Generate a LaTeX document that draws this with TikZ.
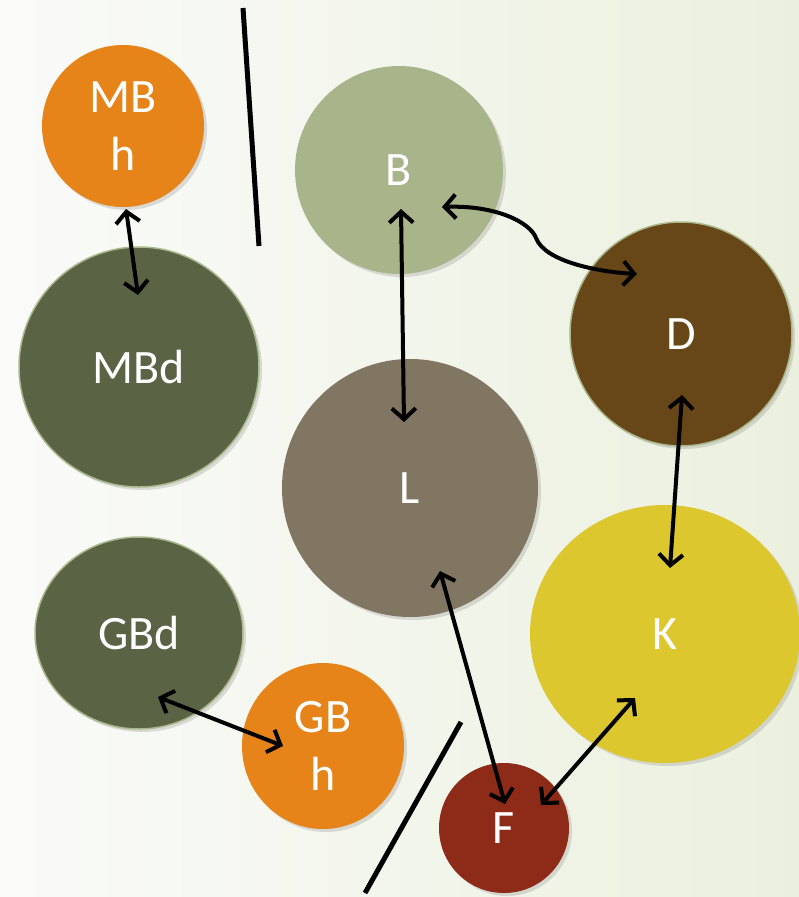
\documentclass[tikz,border=0pt]{standalone}
\usepackage{fontspec}
\setmainfont{Carlito}
\usetikzlibrary{arrows.meta,shapes.geometric,shadows}
\definecolor{orng}{RGB}{230,132,26}
\definecolor{dgreen}{RGB}{91,99,69}
\definecolor{lgreen}{RGB}{168,180,138}
\definecolor{lgray}{RGB}{128,118,98}
\definecolor{dbrown}{RGB}{103,71,24}
\definecolor{kyel}{RGB}{221,199,46}
\definecolor{fred}{RGB}{142,42,24}
\definecolor{rimc}{RGB}{170,184,140}
\definecolor{bgl}{RGB}{250,251,249}
\definecolor{bgr}{RGB}{235,240,222}
\begin{document}
\begin{tikzpicture}[x=1pt,y=-1pt,
  blob/.style={ellipse,inner sep=0pt,text=white,align=center,
    font=\fontsize{48}{58}\selectfont,
    drop shadow={shadow xshift=3pt,shadow yshift=-3pt,opacity=0.25}},
  rimmed/.style={draw=rimc,line width=1.5pt},
  dbl/.style={{Straight Barb[length=11pt,width=24pt]}-{Straight Barb[length=11pt,width=24pt]},line width=4pt,black},
  bar/.style={line width=5pt,black}]
\shade[left color=bgl,right color=bgr] (0,0) rectangle (799,897);
\useasboundingbox (0,0) rectangle (799,897);

% nodes
\node[blob,fill=orng,minimum width=162pt,minimum height=162pt] (MBh) at (123,126) {MB\\h};
\node[blob,rimmed,fill=dgreen,minimum width=240pt,minimum height=240pt] (MBd) at (139,367) {MBd};
\node[blob,rimmed,fill=dgreen,minimum width=208pt,minimum height=192pt] (GBd) at (139,633) {GBd};
\node[blob,fill=orng,minimum width=162pt,minimum height=166pt] (GBh) at (323,746) {GB\\h};
\node[blob,fill=lgreen,minimum width=208pt,minimum height=208pt] (B) at (399,170) {B};
\node[blob,fill=lgray,minimum width=256pt,minimum height=258pt] (L) at (410,488) {L};
\node[blob,rimmed,fill=dbrown,minimum width=222pt,minimum height=224pt] (D) at (681,334) {D};
\node[blob,fill=kyel,minimum width=270pt,minimum height=258pt] (K) at (665,634) {K};
\node[blob,fill=fred,minimum width=130pt,minimum height=130pt] (F) at (504,828) {F};

% separator bars
\coordinate (s1a) at (243,8);
\coordinate (s1b) at (259,246);
\coordinate (s2a) at (461,722);
\coordinate (s2b) at (365,893);
\draw[bar] (s1a) -- (s1b);
\draw[bar] (s2a) -- (s2b);

% connector ends
\coordinate (mbh1) at (126,209);
\coordinate (mbd1) at (138,295);
\coordinate (b1) at (401,209);
\coordinate (l1) at (404,422);
\coordinate (b2) at (442,207);
\coordinate (d1) at (637,274);
\coordinate (d2) at (682,395);
\coordinate (k1) at (670,568);
\coordinate (l2) at (440,571);
\coordinate (f1) at (505,804);
\coordinate (k2) at (635,698);
\coordinate (f2) at (541,805);
\coordinate (gbd1) at (158,697);
\coordinate (gbh1) at (283,746);

\draw[dbl] (mbh1) -- (mbd1);
\draw[dbl] (b1) -- (l1);
\draw[dbl] (b2) .. controls (495,205) and (530,222) .. (536,238)
  .. controls (545,262) and (600,272) .. (d1);
\draw[dbl] (d2) -- (k1);
\draw[dbl] (l2) -- (f1);
\draw[dbl] (k2) -- (f2);
\draw[dbl] (gbd1) -- (gbh1);
\end{tikzpicture}
\end{document}
